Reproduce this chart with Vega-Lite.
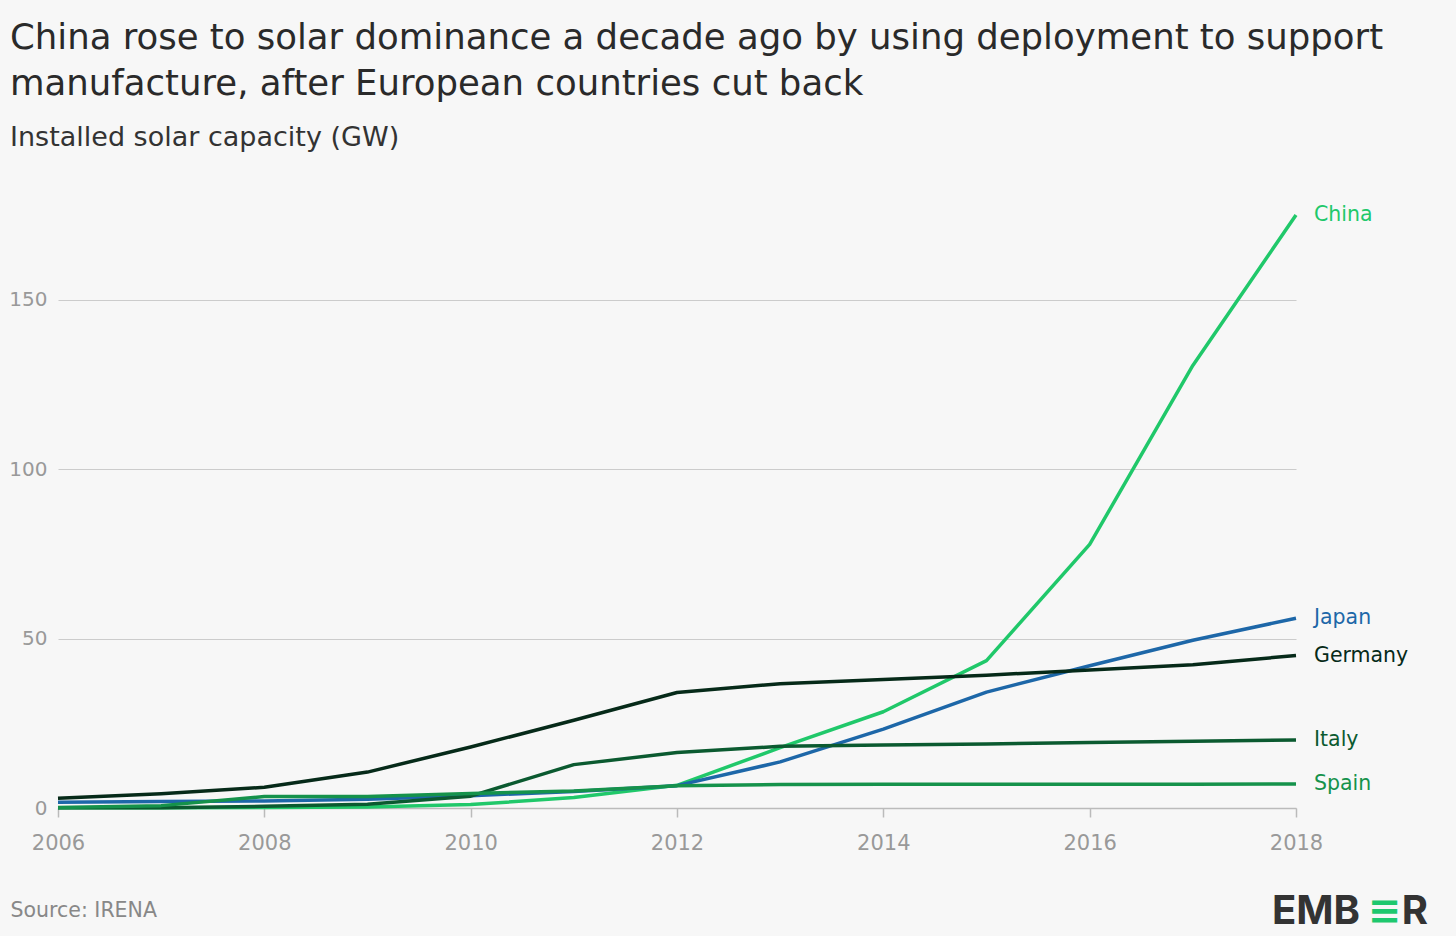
{
  "$schema": "https://vega.github.io/schema/vega-lite/v6.json",
  "width": 1238,
  "height": 593,
  "autosize": {"type": "none"},
  "padding": {"left": 58, "top": 215, "right": 160, "bottom": 128},
  "background": "#f7f7f7",
  "config": {
    "font": "DejaVu Sans",
    "view": {"stroke": null},
    "axis": {"labelFont": "DejaVu Sans", "titleFont": "DejaVu Sans"}
  },
  "title": {
    "text": ["China rose to solar dominance a decade ago by using deployment to support", "manufacture, after European countries cut back"],
    "subtitle": "Installed solar capacity (GW)",
    "anchor": "start",
    "frame": "group",
    "dx": -48,
    "offset": 54,
    "font": "DejaVu Sans",
    "subtitleFont": "DejaVu Sans",
    "fontSize": 35.5,
    "fontWeight": "normal",
    "color": "#2a2a2a",
    "lineHeight": 46,
    "subtitleFontSize": 27,
    "subtitleColor": "#333333",
    "subtitlePadding": 23,
    "subtitleLineHeight": 30
  },
  "datasets": {
    "solar": [
      {"country": "China", "year": 2006, "gw": 0.08},
      {"country": "China", "year": 2007, "gw": 0.1},
      {"country": "China", "year": 2008, "gw": 0.14},
      {"country": "China", "year": 2009, "gw": 0.3},
      {"country": "China", "year": 2010, "gw": 1.0},
      {"country": "China", "year": 2011, "gw": 3.1},
      {"country": "China", "year": 2012, "gw": 6.7},
      {"country": "China", "year": 2013, "gw": 17.8},
      {"country": "China", "year": 2014, "gw": 28.4},
      {"country": "China", "year": 2015, "gw": 43.5},
      {"country": "China", "year": 2016, "gw": 77.8},
      {"country": "China", "year": 2017, "gw": 130.6},
      {"country": "China", "year": 2018, "gw": 175.0},
      {"country": "Japan", "year": 2006, "gw": 1.7},
      {"country": "Japan", "year": 2007, "gw": 1.9},
      {"country": "Japan", "year": 2008, "gw": 2.1},
      {"country": "Japan", "year": 2009, "gw": 2.6},
      {"country": "Japan", "year": 2010, "gw": 3.6},
      {"country": "Japan", "year": 2011, "gw": 4.9},
      {"country": "Japan", "year": 2012, "gw": 6.6},
      {"country": "Japan", "year": 2013, "gw": 13.6},
      {"country": "Japan", "year": 2014, "gw": 23.3},
      {"country": "Japan", "year": 2015, "gw": 34.2},
      {"country": "Japan", "year": 2016, "gw": 42.0},
      {"country": "Japan", "year": 2017, "gw": 49.5},
      {"country": "Japan", "year": 2018, "gw": 56.0},
      {"country": "Germany", "year": 2006, "gw": 2.9},
      {"country": "Germany", "year": 2007, "gw": 4.2},
      {"country": "Germany", "year": 2008, "gw": 6.1},
      {"country": "Germany", "year": 2009, "gw": 10.6},
      {"country": "Germany", "year": 2010, "gw": 18.0},
      {"country": "Germany", "year": 2011, "gw": 25.9},
      {"country": "Germany", "year": 2012, "gw": 34.1},
      {"country": "Germany", "year": 2013, "gw": 36.7},
      {"country": "Germany", "year": 2014, "gw": 37.9},
      {"country": "Germany", "year": 2015, "gw": 39.2},
      {"country": "Germany", "year": 2016, "gw": 40.7},
      {"country": "Germany", "year": 2017, "gw": 42.3},
      {"country": "Germany", "year": 2018, "gw": 45.0},
      {"country": "Italy", "year": 2006, "gw": 0.1},
      {"country": "Italy", "year": 2007, "gw": 0.1},
      {"country": "Italy", "year": 2008, "gw": 0.5},
      {"country": "Italy", "year": 2009, "gw": 1.1},
      {"country": "Italy", "year": 2010, "gw": 3.5},
      {"country": "Italy", "year": 2011, "gw": 12.8},
      {"country": "Italy", "year": 2012, "gw": 16.4},
      {"country": "Italy", "year": 2013, "gw": 18.2},
      {"country": "Italy", "year": 2014, "gw": 18.6},
      {"country": "Italy", "year": 2015, "gw": 18.9},
      {"country": "Italy", "year": 2016, "gw": 19.3},
      {"country": "Italy", "year": 2017, "gw": 19.7},
      {"country": "Italy", "year": 2018, "gw": 20.1},
      {"country": "Spain", "year": 2006, "gw": 0.15},
      {"country": "Spain", "year": 2007, "gw": 0.7},
      {"country": "Spain", "year": 2008, "gw": 3.4},
      {"country": "Spain", "year": 2009, "gw": 3.4},
      {"country": "Spain", "year": 2010, "gw": 4.3},
      {"country": "Spain", "year": 2011, "gw": 5.0},
      {"country": "Spain", "year": 2012, "gw": 6.6},
      {"country": "Spain", "year": 2013, "gw": 6.9},
      {"country": "Spain", "year": 2014, "gw": 7.0},
      {"country": "Spain", "year": 2015, "gw": 7.0},
      {"country": "Spain", "year": 2016, "gw": 7.0},
      {"country": "Spain", "year": 2017, "gw": 7.0},
      {"country": "Spain", "year": 2018, "gw": 7.1}
    ],
    "brand": [
      {"part": "EMB", "year": 2018, "gw": -30.6},
      {"part": "≡", "year": 2018, "gw": -30.6},
      {"part": "R", "year": 2018, "gw": -30.6}
    ]
  },
  "layer": [
    {
      "data": {"name": "solar"},
      "mark": {"type": "line", "strokeWidth": 3.5, "strokeJoin": "round"},
      "encoding": {
        "x": {
          "field": "year", "type": "quantitative",
          "scale": {"domain": [2006, 2018], "nice": false, "zero": false},
          "axis": {
            "values": [2006, 2008, 2010, 2012, 2014, 2016, 2018],
            "format": "d",
            "grid": false,
            "labelFlush": false,
            "domainColor": "#bbbbbb",
            "domainWidth": 1.5,
            "tickColor": "#bbbbbb",
            "tickSize": 9,
            "tickWidth": 1.5,
            "labelColor": "#999999",
            "labelFontSize": 21,
            "labelPadding": 15,
            "title": "Source: IRENA",
            "titleColor": "#888888",
            "titleFontSize": 20.5,
            "titleFontWeight": "normal",
            "titleAnchor": "start",
            "titleAlign": "left",
            "titleBaseline": "middle",
            "titleX": -48,
            "titleY": 102
          }
        },
        "y": {
          "field": "gw", "type": "quantitative",
          "scale": {"domain": [0, 175], "nice": false},
          "axis": {
            "values": [0, 50, 100, 150],
            "domain": false,
            "ticks": false,
            "tickSize": 0,
            "gridColor": "#cccccc",
            "gridWidth": 1.2,
            "labelAlign": "right",
            "labelBaseline": "middle",
            "labelPadding": 11,
            "labelColor": "#999999",
            "labelFontSize": 20,
            "title": null
          }
        },
        "color": {
          "field": "country", "type": "nominal",
          "scale": {
            "domain": ["China", "Japan", "Germany", "Italy", "Spain"],
            "range": ["#20c86a", "#1d67a8", "#062a19", "#0b5a30", "#15924b"]
          },
          "legend": null
        },
        "order": {"field": "country"}
      }
    },
    {
      "data": {"name": "solar"},
      "transform": [{"filter": "datum.year === 2018"}],
      "mark": {"type": "text", "align": "left", "baseline": "middle", "dx": 18, "fontSize": 20.5},
      "encoding": {
        "x": {"field": "year", "type": "quantitative"},
        "y": {"field": "gw", "type": "quantitative"},
        "text": {"field": "country"},
        "color": {"field": "country", "type": "nominal", "legend": null}
      }
    },
    {
      "data": {"name": "brand"},
      "transform": [{"filter": "datum.part === 'EMB'"}],
      "mark": {"type": "text", "align": "right", "baseline": "middle", "dx": 64, "fontSize": 40, "fontWeight": "bold", "color": "#333333", "font": "Inter"},
      "encoding": {
        "x": {"field": "year", "type": "quantitative"},
        "y": {"field": "gw", "type": "quantitative"},
        "text": {"field": "part"}
      }
    },
    {
      "data": {"name": "brand"},
      "transform": [{"filter": "datum.part === '≡'"}],
      "mark": {"type": "text", "align": "left", "baseline": "middle", "dx": 72, "fontSize": 40, "fontWeight": "bold", "color": "#1ec86e", "font": "DejaVu Sans"},
      "encoding": {
        "x": {"field": "year", "type": "quantitative"},
        "y": {"field": "gw", "type": "quantitative"},
        "text": {"field": "part"}
      }
    },
    {
      "data": {"name": "brand"},
      "transform": [{"filter": "datum.part === 'R'"}],
      "mark": {"type": "text", "align": "right", "baseline": "middle", "dx": 132, "fontSize": 40, "fontWeight": "bold", "color": "#333333", "font": "Inter"},
      "encoding": {
        "x": {"field": "year", "type": "quantitative"},
        "y": {"field": "gw", "type": "quantitative"},
        "text": {"field": "part"}
      }
    }
  ]
}
